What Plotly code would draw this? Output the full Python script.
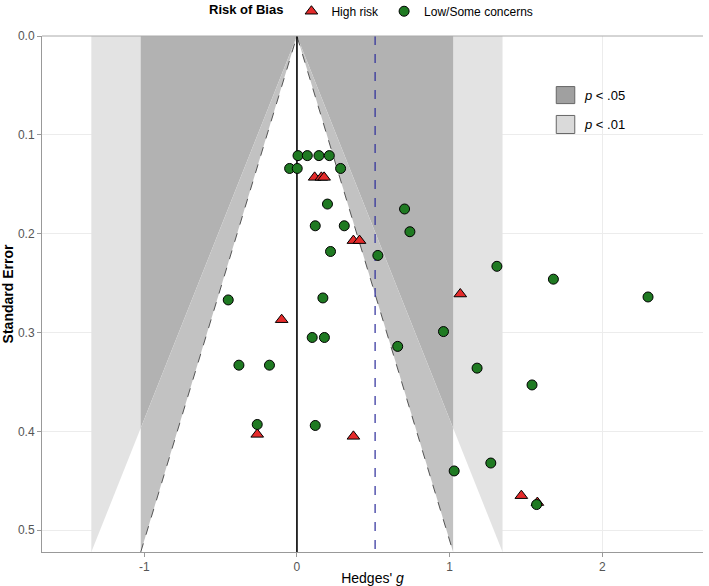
import plotly.graph_objects as go

# ---- data ----
low_g  = [0.007, 0.068, 0.144, 0.212, -0.048, 0.002, 0.286, 0.20, 0.12, 0.31,
          0.705, 0.74, 0.22, 0.53, 1.31, 1.68, 2.30, 0.17, -0.45, 0.10, 0.18,
          0.96, 0.66, -0.38, -0.18, 1.18, 1.54, -0.26, 0.12, 1.27, 1.03, 1.57]
low_se = [0.121, 0.121, 0.121, 0.121, 0.134, 0.134, 0.134, 0.170, 0.192, 0.192,
          0.175, 0.198, 0.218, 0.222, 0.233, 0.246, 0.264, 0.265, 0.267, 0.305, 0.305,
          0.299, 0.314, 0.333, 0.333, 0.336, 0.353, 0.393, 0.394, 0.432, 0.440, 0.474]
high_g  = [0.116, 0.16, 0.178, 0.37, 0.41, 1.07, -0.10, -0.26, 0.37, 1.47, 1.575]
high_se = [0.143, 0.143, 0.143, 0.207, 0.207, 0.261, 0.287, 0.403, 0.405, 0.465, 0.472]
pooled_g = 0.512
se_max = 0.522
z05, z01 = 1.96, 2.58
x_ticks = [-1, 0, 1, 2]
y_ticks = [0.0, 0.1, 0.2, 0.3, 0.4, 0.5]

FONT = "Liberation Sans, Arial, sans-serif"
C_DARK, C_MED, C_LIGHT = "#b2b2b2", "#c2c2c2", "#e3e3e3"

fig = go.Figure()

def poly(xs, ys, color):
    fig.add_trace(go.Scatter(x=xs, y=ys, fill="toself", fillcolor=color, mode="none",
                             line=dict(width=0), hoverinfo="skip", showlegend=False))

w05 = z05 * se_max
w01 = z01 * se_max
se_cross = w05 / z01
poly([-w01, w01, w01, -w01], [0, 0, se_max, se_max], C_LIGHT)
poly([-w05, w05, w05, -w05], [0, 0, se_max, se_max], C_DARK)
poly([0, w01, -w01], [0, se_max, se_max], "white")
poly([0, w05, w05, -w05, -w05], [0, se_cross, se_max, se_max, se_cross], C_MED)
poly([0, w05, -w05], [0, se_max, se_max], "white")

# funnel dashed edges
fig.add_trace(go.Scatter(x=[-w05, 0, w05], y=[se_max, 0, se_max], mode="lines",
                         line=dict(color="#555555", width=1, dash="dash"),
                         hoverinfo="skip", showlegend=False))
# vertical reference lines
fig.add_trace(go.Scatter(x=[0, 0], y=[0, se_max], mode="lines",
                         line=dict(color="black", width=1.6), hoverinfo="skip", showlegend=False))
fig.add_trace(go.Scatter(x=[pooled_g, pooled_g], y=[0, se_max], mode="lines",
                         line=dict(color="#2b2b9a", width=1.2, dash="dash"),
                         hoverinfo="skip", showlegend=False))

fig.add_trace(go.Scatter(x=high_g, y=high_se, mode="markers", name="High risk",
                         marker=dict(symbol="triangle-up", size=11, color="#e52b2b",
                                     line=dict(color="black", width=1))))
fig.add_trace(go.Scatter(x=low_g, y=low_se, mode="markers", name="Low/Some concerns",
                         marker=dict(symbol="circle", size=10, color="#1f7a22",
                                     line=dict(color="black", width=1))))

# inset legend for contours
for (y0, y1, col, lab) in [(0.869, 0.902, "#a0a0a0", "<i>p</i> < .05"),
                           (0.811, 0.846, "#dadada", "<i>p</i> < .01")]:
    fig.add_shape(type="rect", xref="paper", yref="paper", x0=0.778, x1=0.806, y0=y0, y1=y1,
                  fillcolor=col, line=dict(color="#666666", width=1))
    fig.add_annotation(xref="paper", yref="paper", x=0.8165, y=(y0 + y1) / 2, text=lab,
                       showarrow=False, xanchor="left", yanchor="middle",
                       font=dict(family=FONT, size=13, color="black"))

# top border
fig.add_shape(type="line", xref="paper", yref="paper", x0=0, x1=1, y0=1, y1=1,
              line=dict(color="#aaaaaa", width=1))

fig.update_layout(
    width=709, height=586,
    margin=dict(l=42, r=6, t=36, b=34, autoexpand=False),
    plot_bgcolor="white", paper_bgcolor="white",
    font=dict(family=FONT, size=12, color="black"),
    legend=dict(orientation="h", x=0.5, xanchor="center", y=1.048, yanchor="middle",
                title=dict(text="<b>Risk of Bias</b>", font=dict(size=13)),
                font=dict(size=12), itemwidth=30),
    xaxis=dict(range=[-1.67, 2.66], tickvals=x_ticks, ticktext=[str(v) for v in x_ticks],
               showgrid=True, gridcolor="#ececec", gridwidth=1, zeroline=False,
               showline=True, linecolor="#999999", ticks="outside", tickcolor="#999999",
               ticklen=4, tickfont=dict(color="#555555", size=12),
               title=dict(text="Hedges' <i>g</i>", font=dict(size=14), standoff=6)),
    yaxis=dict(range=[se_max, 0], tickvals=y_ticks, ticktext=[f"{v:.1f}" for v in y_ticks],
               showgrid=True, gridcolor="#ececec", gridwidth=1, zeroline=False,
               showline=True, linecolor="#999999", ticks="outside", tickcolor="#999999",
               ticklen=4, tickfont=dict(color="#555555", size=12),
               title=dict(text="<b>Standard Error</b>", font=dict(size=14), standoff=6)),
)

fig.write_html("out.html")
